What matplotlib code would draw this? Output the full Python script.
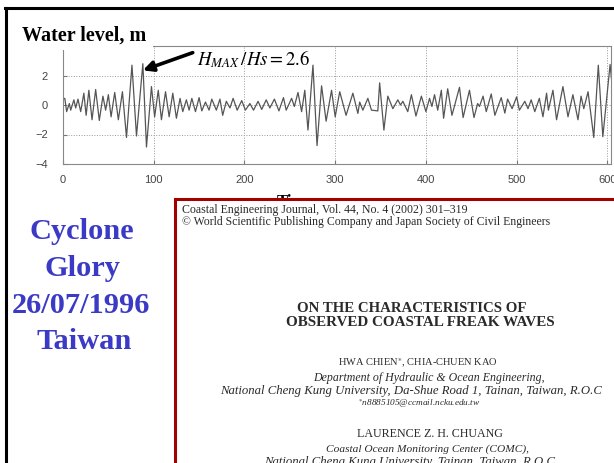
import matplotlib
matplotlib.use("Agg")
import matplotlib.pyplot as plt
import matplotlib.patches as mpatches
from matplotlib.lines import Line2D

W, H = 614, 463

# wave record (peaks / troughs)
time_s = [0, 2, 4, 7, 8.5, 12, 14, 16.5, 19.5, 23, 25.5, 28.5, 32, 36, 40, 44, 47, 50,
          53, 57, 61, 65.5, 70, 76, 81, 88, 92, 97.5, 101, 105, 108.5, 113, 117, 121,
          125, 129, 132, 136, 139, 142, 146, 150, 153, 157, 161, 164, 169, 173, 176,
          180, 184, 187.5, 192, 197, 201, 206, 210, 215, 219, 224, 228, 233, 238, 243,
          246, 252, 255, 259, 263, 266.5, 270, 275.5, 280, 285, 290, 296, 300, 305,
          312, 319.5, 325, 327, 330.5, 336, 340, 347, 349, 353.7, 358, 363.6, 369,
          372, 374.6, 380, 384, 389, 395, 400, 404, 406.6, 409.5, 413, 417, 419.5,
          424, 428.7, 437, 441, 448, 453, 457, 459, 463, 466.5, 472, 476, 483, 487,
          490, 495, 500, 503, 509, 512.5, 516, 520, 525, 529, 533, 535, 540, 544, 551,
          556.6, 562, 567.6, 571, 574, 578.7, 585, 590, 595, 603, 605]
level_m = [0.4, 0.45, -0.45, 0.1, -0.35, 0.35, -0.2, 0.4, -0.45, 0.8, -0.7, 1.0, -1.0,
           1.05, -1.05, 0.6, -0.35, 0.7, -0.8, 0.85, -1.0, 0.9, -2.2, 2.7, -2.1, 2.8,
           -2.85, 1.25, -0.8, 1.0, -1.0, 0.9, -0.8, 0.8, -0.9, 0.45, -0.45, 0.35, -0.35,
           0.45, -0.45, 0.5, -0.4, 0.2, -0.35, 0.4, -0.35, 0.4, -0.7, 0.25, -0.2, 0.45,
           -0.35, 0.3, -0.35, 0.1, -0.35, 0.25, -0.3, 0.35, -0.2, 0.4, -0.4, 0.5, -0.35,
           0.45, -0.1, 0.85, -0.45, 1.0, -1.7, 2.7, -2.75, 1.3, -1.1, 1.0, -0.8, 0.9,
           -0.7, 0.8, -0.57, 0.2, -0.35, 0.45, -0.35, -0.4, 1.5, -1.7, 0.6, -0.25, 0.35,
           0.0, 0.25, -0.45, 0.7, -0.75, 0.6, -0.45, 0.45, -0.1, 0.7, -0.35, 1.0, -0.9,
           1.1, -0.7, 1.2, -0.85, 1.0, -0.85, 0.1, -0.1, 0.6, -0.45, 0.75, -0.7, 0.5,
           -0.55, 0.4, -0.25, 0.55, -0.35, 0.25, -0.25, 0.35, -0.45, 0.45, -0.8, 0.8,
           -0.35, 1.0, -1.0, 1.25, -0.8, 0.7, -1.0, 0.6, -0.25, 0.9, -2.2, 2.7, -2.15,
           2.75, 1.5]
xticks = [0, 100, 200, 300, 400, 500, 600]
yticks = [-4, -2, 0, 2, 4]

storm_lines = ["Cyclone", "Glory", "26/07/1996", "Taiwan"]
paper_lines = [
    "Coastal Engineering Journal, Vol. 44, No. 4 (2002) 301\u2013319",
    "\u00a9 World Scientific Publishing Company and Japan Society of Civil Engineers",
    "ON THE CHARACTERISTICS OF",
    "OBSERVED COASTAL FREAK WAVES",
    r"HWA CHIEN$^{\ast}$, CHIA-CHUEN KAO",
    "Department of Hydraulic & Ocean Engineering,",
    "National Cheng Kung University, Da-Shue Road 1, Tainan, Taiwan, R.O.C",
    r"$^{\ast}$n8885105@ccmail.ncku.edu.tw",
    "LAURENCE Z. H. CHUANG",
    "Coastal Ocean Monitoring Center (COMC),",
    "National Cheng Kung University, Tainan, Taiwan, R.O.C",
]

plt.rcParams["mathtext.fontset"] = "stix"
SERIF = "Liberation Serif"
SANS = "Liberation Sans"


def fx(px):
    return px / W


def fy(py):
    return 1 - py / H


fig = plt.figure(figsize=(W / 100, H / 100), dpi=100)
renderer = fig.canvas.get_renderer()

ax = fig.add_axes([fx(63), fy(164), fx(611) - fx(63), fy(46) - fy(164)])
ax.plot(time_s, level_m, color="#555555", lw=0.9)
ax.set_xlim(0, 604)
ax.set_ylim(-4, 4)
ax.set_xticks(xticks)
ax.set_yticks(yticks)
ax.grid(True, ls=":", color="#999999", lw=0.7)
ax.tick_params(direction="in", length=3, color="#777777", labelcolor="#444444",
               labelsize=8)
ax.tick_params(axis="x", pad=8)
ax.tick_params(axis="y", pad=11)
for lab in ax.get_xticklabels() + ax.get_yticklabels():
    lab.set_family(SANS)
for s in ax.spines.values():
    s.set_color("#888888")
    s.set_linewidth(0.8)

ax.text(148, 2.7, r"$H_{MAX}\,/Hs = 2.6$", fontsize=13.5, va="baseline", color="black")
ax.annotate("", xy=(88, 2.35), xytext=(143, 3.55),
            arrowprops=dict(arrowstyle="-|>", lw=2.6, color="black", mutation_scale=15,
                            shrinkA=0, shrinkB=0))

# white cover behind the heading
fig.add_artist(mpatches.Rectangle((fx(8), fy(50)), fx(153) - fx(8), fy(9) - fy(50),
                                  transform=fig.transFigure, facecolor="white",
                                  edgecolor="none", zorder=5))
fig.text(fx(22), fy(41), "Water level, m", fontsize=14.5, fontweight="bold",
         family=SERIF, va="baseline", zorder=6)

# slide frame
fig.add_artist(Line2D([fx(5), 1.01], [fy(8), fy(8)], color="black", lw=2.2, zorder=9))
fig.add_artist(Line2D([fx(6), fx(6)], [fy(8), -0.01], color="black", lw=2.2, zorder=9))

fig.text(fx(277), fy(194), "Time", fontsize=12, fontweight="bold", family=SERIF,
         va="top", zorder=4)

# storm label
probe = fig.text(0, 0, storm_lines[2], fontsize=20, fontweight="bold", family=SERIF)
big = 20 * 138 / probe.get_window_extent(renderer).width
probe.remove()
for s, xc, yb in zip(storm_lines, [82, 82, 81, 84], [239, 276, 313, 349]):
    fig.text(fx(xc), fy(yb), s, ha="center", va="baseline", fontsize=big,
             fontweight="bold", family=SERIF, color="#3a3ac6")

# paper excerpt
fig.add_artist(mpatches.Rectangle((fx(175), fy(480)), fx(650) - fx(175), fy(199) - fy(480),
                                  transform=fig.transFigure, facecolor="white",
                                  edgecolor="#a30000", lw=2.2, zorder=7))

# width each line spans in the picture (None: same size as the italic address line)
spans = [(182, 468), (182, 550), (298, 527), (285, 555), (338, 498), (313, 545),
         (218, 603), (358, 480), (357, 503), (327, 530), None]
centres = [325, 366, 412, 420, 418, 429, 411, 419, 430, 428, 410]
rows = [210, 222, 309, 323, 363, 378, 391, 404, 434, 449, 462]
styles = ["normal", "normal", "normal", "normal", "normal", "italic", "italic",
          "italic", "normal", "italic", "italic"]
weights = ["normal", "normal", "bold", "bold"] + ["normal"] * 7
ref_size = 8
for i, (s, span, xc, yc, st, wt) in enumerate(zip(paper_lines, spans, centres, rows,
                                                  styles, weights)):
    t = fig.text(fx(xc), fy(yc), s, ha="center", va="center", fontsize=8,
                 family=SERIF, style=st, fontweight=wt, color="#2a2a2a", zorder=8)
    if span is None:
        t.set_fontsize(ref_size)
        continue
    w = t.get_window_extent(renderer).width
    t.set_fontsize(8 * (span[1] - span[0]) / w)
    if i == 6:
        ref_size = t.get_fontsize()

fig.savefig("out.png", dpi=100)
